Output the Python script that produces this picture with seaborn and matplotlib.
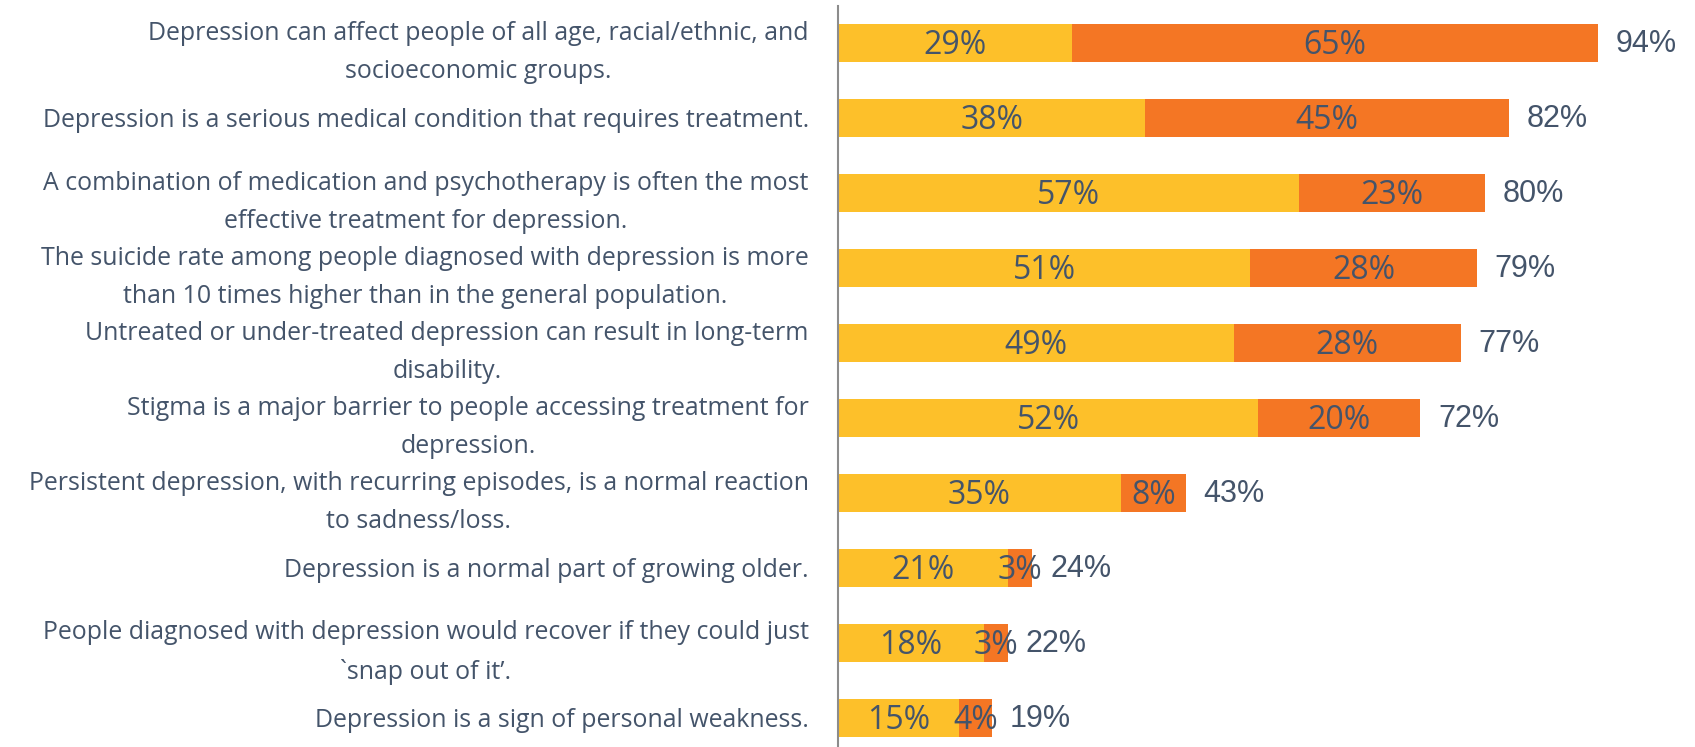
import matplotlib
matplotlib.use("Agg")
import matplotlib.pyplot as plt
import seaborn as sns
import pandas as pd

statements = [
    "Depression can affect people of all age, racial/ethnic, and\nsocioeconomic groups.",
    "Depression is a serious medical condition that requires treatment.",
    "A combination of medication and psychotherapy is often the most\neffective treatment for depression.",
    "The suicide rate among people diagnosed with depression is more\nthan 10 times higher than in the general population.",
    "Untreated or under-treated depression can result in long-term\ndisability.",
    "Stigma is a major barrier to people accessing treatment for\ndepression.",
    "Persistent depression, with recurring episodes, is a normal reaction\nto sadness/loss.",
    "Depression is a normal part of growing older.",
    "People diagnosed with depression would recover if they could just\n`snap out of it\u2019.",
    "Depression is a sign of personal weakness.",
]
somewhat = [29, 38, 57, 51, 49, 52, 35, 21, 18, 15]
strongly = [65, 45, 23, 28, 28, 20, 8, 3, 3, 4]
totals = [94, 82, 80, 79, 77, 72, 43, 24, 22, 19]

YELLOW = "#FDC02A"
ORANGE = "#F47624"
TXT = "#44546A"

sns.set_theme(style="white")
plt.rcParams["font.family"] = ["Open Sans", "DejaVu Sans"]

df = pd.DataFrame({"statement": statements, "somewhat": somewhat, "strongly": strongly})
df["stack"] = df["somewhat"] + df["strongly"]

fig = plt.figure(figsize=(16.95, 7.47), dpi=100)
ax = fig.add_axes([838 / 1695, 0.0, 808.5 / 1695, 1 - 6 / 747])

sns.barplot(data=df, y="statement", x="stack", color=ORANGE, orient="h", width=0.5,
            saturation=1, ax=ax, order=statements, errorbar=None, linewidth=0)
sns.barplot(data=df, y="statement", x="somewhat", color=YELLOW, orient="h", width=0.5,
            saturation=1, ax=ax, order=statements, errorbar=None, linewidth=0)

ax.set_xlim(0, 100)
ax.set_ylim(9.39, -0.49)
ax.set_xlabel("")
ax.set_ylabel("")
ax.set_xticks([])
for s in ["top", "right", "bottom"]:
    ax.spines[s].set_visible(False)
ax.spines["left"].set_color("#8C8C8C")
ax.spines["left"].set_linewidth(1.5)

ax.tick_params(axis="y", length=0, pad=21)
for lab in ax.get_yticklabels():
    lab.set_fontsize(17.9)
    lab.set_color(TXT)
    lab.set_multialignment("center")
    lab.set_linespacing(1.7)

for i in range(len(statements)):
    y = somewhat[i]
    o = strongly[i]
    ax.annotate(f"{y}%", xy=(y / 2, i), xytext=(0, -2), textcoords="offset points",
                ha="center", va="center", fontsize=23, color=TXT)
    ax.annotate(f"{o}%", xy=(y + o / 2, i), xytext=(0, -2), textcoords="offset points",
                ha="center", va="center", fontsize=23, color=TXT)
    ax.annotate(f"{totals[i]}%", xy=(y + o, i), xytext=(13, -1), textcoords="offset points",
                ha="left", va="center", fontsize=22, color=TXT,
                family=["Liberation Sans", "DejaVu Sans"])

fig.savefig("out.png", dpi=100)
